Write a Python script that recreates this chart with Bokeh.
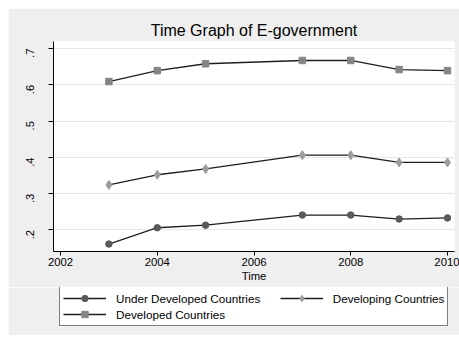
import math
from bokeh.plotting import figure
from bokeh.layouts import column
from bokeh.models import Range1d, FixedTicker, Legend, LegendItem
from bokeh.embed import file_html
from bokeh.resources import INLINE

years = [2003, 2004, 2005, 2007, 2008, 2009, 2010]
under_developed = [0.161, 0.206, 0.213, 0.241, 0.241, 0.230, 0.233]
developing = [0.324, 0.352, 0.368, 0.406, 0.406, 0.386, 0.386]
developed = [0.609, 0.639, 0.658, 0.667, 0.667, 0.642, 0.639]

series_names = ["Under Developed Countries", "Developing Countries", "Developed Countries"]
x_ticks = [2002, 2004, 2006, 2008, 2010]
y_ticks = [0.2, 0.3, 0.4, 0.5, 0.6, 0.7]
y_tick_labels = [".2", ".3", ".4", ".5", ".6", ".7"]
title_text = "Time Graph of E-government"
x_label = "Time"

FONT = "Liberation Sans"
GRAY_BG = "#EFEFEF"
LINE = "#1E1E1E"
MARKERS = [
    dict(marker="circle", size=6.5, fill_color="#5A5A5A", line_color="#5A5A5A"),
    dict(marker="diamond", size=9, fill_color="#9C9C9C", line_color="#9C9C9C"),
    dict(marker="square", size=6.5, fill_color="#858585", line_color="#858585"),
]
series = [under_developed, developing, developed]

# ---------------- main chart ----------------
p = figure(width=451, height=279, output_backend="svg", toolbar_location=None,
           x_range=Range1d(2001.855, 2010.145), y_range=Range1d(0.1405, 0.7193),
           min_border_left=45, min_border_right=5, min_border_top=33, min_border_bottom=36,
           background_fill_color="white", border_fill_color=GRAY_BG,
           outline_line_color=None)
p.margin = (8, 0, 0, 8)

p.title.text = title_text
p.title.text_font = FONT
p.title.text_font_size = "16px"
p.title.text_font_style = "normal"
p.title.text_color = "black"
p.title.align = "center"
p.title.standoff = 5

p.xaxis.ticker = FixedTicker(ticks=x_ticks)
p.yaxis.ticker = FixedTicker(ticks=y_ticks)
p.yaxis.major_label_overrides = {t: s for t, s in zip(y_ticks, y_tick_labels)}
p.yaxis.major_label_orientation = math.pi / 2
for ax in (p.xaxis, p.yaxis):
    ax.axis_line_color = "black"
    ax.major_tick_line_color = "black"
    ax.minor_tick_line_color = None
    ax.major_tick_in = 0
    ax.major_label_text_font = FONT
    ax.major_label_text_font_size = "11.3px"
    ax.major_label_text_color = "black"
p.xaxis.major_tick_out = 4
p.yaxis.major_tick_out = 5
p.xaxis.major_label_standoff = 2
p.yaxis.major_label_standoff = 18
p.xaxis.axis_label = x_label
p.xaxis.axis_label_text_font = FONT
p.xaxis.axis_label_text_font_size = "11.3px"
p.xaxis.axis_label_text_font_style = "normal"
p.xaxis.axis_label_text_color = "black"
p.xaxis.axis_label_standoff = 1

p.xgrid.grid_line_color = None
p.ygrid.grid_line_color = "#E6E6E6"
p.ygrid.grid_line_width = 1

for ys, mk in zip(series, MARKERS):
    p.line(years, ys, line_color=LINE, line_width=1.3)
    p.scatter(years, ys, **mk)

# ---------------- legend strip (frame aligned with the chart's frame) ----------------
p2 = figure(width=451, height=48, output_backend="svg", toolbar_location=None,
            x_range=Range1d(0, 1), y_range=Range1d(0, 1),
            x_axis_location=None, y_axis_location=None,
            min_border=0, background_fill_color=GRAY_BG, border_fill_color=GRAY_BG,
            outline_line_color=None)
p2.margin = (0, 0, 2, 8)
p2.grid.visible = False

legend_items = []
for i, (name, ys, mk) in enumerate(zip(series_names, series, MARKERS)):
    rl = p2.line(years, ys, line_color=LINE, line_width=1.3, visible=False)
    rm = p2.scatter(years, ys, visible=False, **mk)
    label = name + "\u00a0" * 6 if i == 0 else name
    legend_items.append(LegendItem(label=label, renderers=[rl, rm]))

legend = Legend(items=legend_items, orientation="horizontal", ncols=2, location=(6, 9))
legend.glyph_width = 43
legend.glyph_height = 16
legend.label_height = 13
legend.label_standoff = 10
legend.spacing = 0
legend.padding = 3
legend.margin = 0
legend.border_line_color = "black"
legend.border_line_width = 1
legend.background_fill_color = "white"
legend.background_fill_alpha = 1
legend.label_text_font = FONT
legend.label_text_font_size = "11.7px"
legend.label_text_color = "black"
p2.add_layout(legend, "center")

layout = column(p, p2, spacing=0)
open("out.html", "w").write(file_html(layout, INLINE))
